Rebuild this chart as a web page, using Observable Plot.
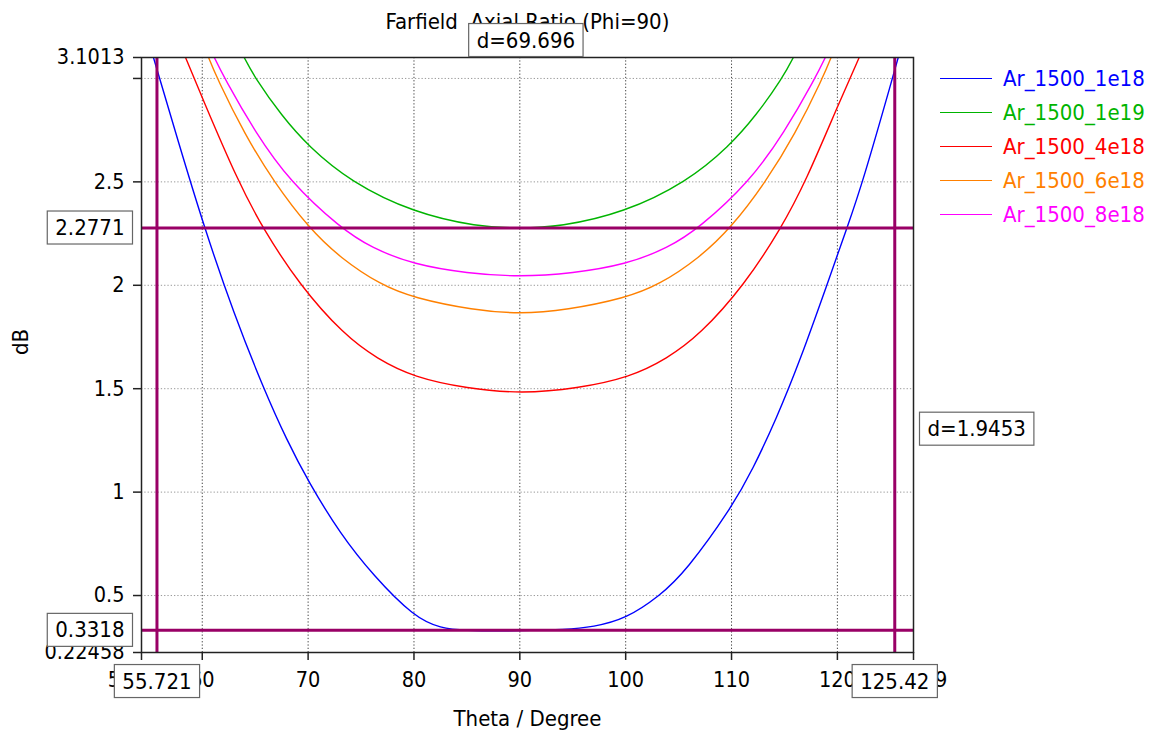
<!DOCTYPE html>
<html><head><meta charset="utf-8">
<script src="https://cdn.jsdelivr.net/npm/d3@7"></script>
<script src="https://cdn.jsdelivr.net/npm/@observablehq/plot@0.6"></script>
<style>
body{margin:0;background:#fff;}
#wrap{position:relative;width:1156px;height:731px;font-family:"DejaVu Sans Condensed","DejaVu Sans",sans-serif;}
#chart{position:absolute;left:0;top:0;}
#legend{position:absolute;left:940px;top:61px;}
.row{display:flex;align-items:center;height:34px;font-size:22px;white-space:nowrap;}
.row .sw{display:inline-block;width:52px;height:0;border-top:1.5px solid;margin-right:11px;}
</style></head>
<body><div id="wrap"><div id="chart"></div><div id="legend"></div></div>
<script>
const titleText = "Farfield  Axial Ratio (Phi=90)";
const xLabel = "Theta / Degree";
const yLabel = "dB";
const seriesNames = ["Ar_1500_1e18","Ar_1500_1e19","Ar_1500_4e18","Ar_1500_6e18","Ar_1500_8e18"];
const seriesColors = ["#0000ff","#00b400","#ff0000","#ff8000","#ff00ff"];

const theta1e18 = [54.6,55.3,57.7,60.2,63,65.8,68,70,73,76.2,80,82.5,85,88,91,94,97,100,103.2,105.7,110,112,114.2,116.5,119,121,122.4,125.2,126.4];
const ar1e18    = [3.24,3.116,2.70,2.277,1.86,1.5,1.25,1.053,0.80,0.594,0.397,0.341,0.331,0.329,0.331,0.335,0.348,0.387,0.497,0.618,0.924,1.11,1.35,1.64,2.0,2.29,2.5,3.0,3.22];

const theta1e19 = [63,63.8,65,67.5,70,74,80,86,89.9,93.8,99.8,105.8,109.8,112.3,114.8,116.0,116.8];
const ar1e19    = [3.2,3.116,3.0,2.82,2.673,2.5,2.35,2.283,2.275,2.283,2.35,2.5,2.673,2.82,3.0,3.116,3.2];

const theta4e18 = [57.5,58.3,60,63.4,65.7,69.2,73.4,76.5,80,85,90.2,95.4,100.4,103.9,107.0,111.2,114.7,117.0,120.3,122.2,123.0];
const ar4e18    = [3.216,3.116,2.906,2.5,2.277,2.0,1.76,1.645,1.555,1.501,1.476,1.501,1.555,1.645,1.76,2.0,2.277,2.5,2.9,3.116,3.216];

const theta6e18 = [59.8,60.47,61.4,64,66.76,70.06,73.05,76.82,79.97,85.6,90,94.4,100.03,103.18,106.95,109.94,113.24,116,118.6,119.53,120.2];
const ar6e18    = [3.206,3.116,3.0,2.73,2.5,2.277,2.132,2.003,1.939,1.88,1.861,1.88,1.939,2.003,2.132,2.277,2.5,2.73,3.0,3.116,3.206];

const theta8e18 = [60.3,61.0,62.1,65,68.3,73.05,76,80,85,90,95,100,104,106.95,111.7,115,117.9,119.0,119.7];
const ar8e18    = [3.19,3.116,3.0,2.74,2.5,2.277,2.18,2.1,2.058,2.04,2.058,2.1,2.18,2.277,2.5,2.74,3.0,3.116,3.19];

const xDomain = [54.26, 127.19];
const yDomain = [0.22458, 3.1013];
const xTicks = [54.26,60,70,80,90,100,110,120,127.19];
const xTickLabels = ["54.263","60","70","80","90","100","110","120","127.19"];
const xGrid = [60,70,80,90,100,110,120];
const yTicks = [0.22458,0.5,1,1.5,2,2.5,3,3.1013];
const yTickLabels = ["0.22458","0.5","1","1.5","2","2.5","","3.1013"];
const yGrid = [0.5,1,1.5,2,2.5,3];

const xMarkers = [55.721, 125.42];
const xMarkerLabels = ["55.721","125.42"];
const yMarkers = [2.2771, 0.3318];
const yMarkerLabels = ["2.2771","0.3318"];
const dxLabel = "d=69.696";
const dyLabel = "d=1.9453";
const markerColor = "#990066";

const seriesArrays = [[theta1e18,ar1e18],[theta1e19,ar1e19],[theta4e18,ar4e18],[theta6e18,ar6e18],[theta8e18,ar8e18]];
const data = [];
seriesArrays.forEach(([t,a],k)=>t.forEach((x,i)=>data.push({series:seriesNames[k],theta:x,ar:a[i]})));

const xLab = new Map(xTicks.map((d,i)=>[d,xTickLabels[i]]));
const yLab = new Map(yTicks.map((d,i)=>[d,yTickLabels[i]]));
const boxTexts = new Set([...xMarkerLabels, ...yMarkerLabels, dxLabel, dyLabel]);

const font = '"DejaVu Sans Condensed","DejaVu Sans",sans-serif';

const chart = Plot.plot({
  width:1156, height:731,
  marginLeft:141, marginRight:243, marginTop:57, marginBottom:79,
  style:{fontFamily:font, fontSize:"21px", color:"#000", background:"#fff"},
  x:{domain:xDomain},
  y:{domain:yDomain},
  color:{domain:seriesNames, range:seriesColors},
  marks:[
    Plot.text([titleText],{frameAnchor:"top", dy:-36, lineAnchor:"middle", fontSize:22}),
    Plot.gridX(xGrid,{stroke:"#444", strokeOpacity:1, strokeWidth:1, strokeDasharray:"1.3,2"}),
    Plot.gridY(yGrid,{stroke:"#999", strokeOpacity:1, strokeWidth:1, strokeDasharray:"1.3,2"}),
    Plot.line(data,{x:"theta", y:"ar", stroke:"series", z:"series", curve:"basis", strokeWidth:1.4, clip:true}),
    Plot.ruleX(xMarkers,{stroke:markerColor, strokeWidth:3}),
    Plot.ruleY(yMarkers,{stroke:markerColor, strokeWidth:3}),
    Plot.frame({stroke:"#222", strokeWidth:1.5}),
    Plot.axisX(xTicks,{tickFormat:d=>xLab.get(d), tickSize:8, tickPadding:11, fontSize:21.5, stroke:"#222", strokeWidth:1.5, fill:"#000", label:null}),
    Plot.axisY(yTicks,{tickFormat:d=>yLab.get(d), tickSize:8, tickPadding:9, fontSize:21.5, stroke:"#222", strokeWidth:1.5, fill:"#000", label:null}),
    Plot.text([xLabel],{frameAnchor:"bottom", dy:66, lineAnchor:"middle", fontSize:22}),
    Plot.text([yLabel],{frameAnchor:"left", dx:-121, rotate:-90, lineAnchor:"middle", fontSize:22}),
    Plot.text(xMarkers,{x:d=>d, text:(d,i)=>xMarkerLabels[i], frameAnchor:"bottom", dy:29, lineAnchor:"middle", fontSize:22}),
    Plot.text(yMarkers,{y:d=>d, text:(d,i)=>yMarkerLabels[i], frameAnchor:"left", dx:-17, textAnchor:"end", lineAnchor:"middle", fontSize:22}),
    Plot.text([(xMarkers[0]+xMarkers[1])/2],{x:d=>d, text:()=>dxLabel, frameAnchor:"top", dy:-17, lineAnchor:"middle", fontSize:22}),
    Plot.text([(yMarkers[0]+yMarkers[1])/2],{y:d=>d, text:()=>dyLabel, frameAnchor:"right", dx:14, textAnchor:"start", lineAnchor:"middle", fontSize:22})
  ]
});
document.getElementById("chart").appendChild(chart);

// preserve double space in title
d3.select(chart).selectAll("text").filter(function(){return this.textContent === titleText;}).style("white-space","pre");

// boxes behind marker labels
d3.select(chart).selectAll("text").filter(function(){return boxTexts.has(this.textContent);}).each(function(){
  const b = this.getBBox();
  const r = document.createElementNS("http://www.w3.org/2000/svg","rect");
  const padX = 8, padY = 4;
  r.setAttribute("x", b.x - padX);
  r.setAttribute("y", b.y - padY);
  r.setAttribute("width", b.width + 2*padX);
  r.setAttribute("height", b.height + 2*padY);
  r.setAttribute("fill", "#fff");
  r.setAttribute("stroke", "#666");
  r.setAttribute("stroke-width", "1.2");
  const tr = this.getAttribute("transform");
  if (tr) r.setAttribute("transform", tr);
  this.parentNode.insertBefore(r, this);
});

// legend
const legend = d3.select("#legend");
seriesNames.forEach((n,i)=>{
  const row = legend.append("div").attr("class","row").style("color",seriesColors[i]);
  row.append("span").attr("class","sw").style("border-color",seriesColors[i]);
  row.append("span").text(n);
});
</script>
</body></html>
